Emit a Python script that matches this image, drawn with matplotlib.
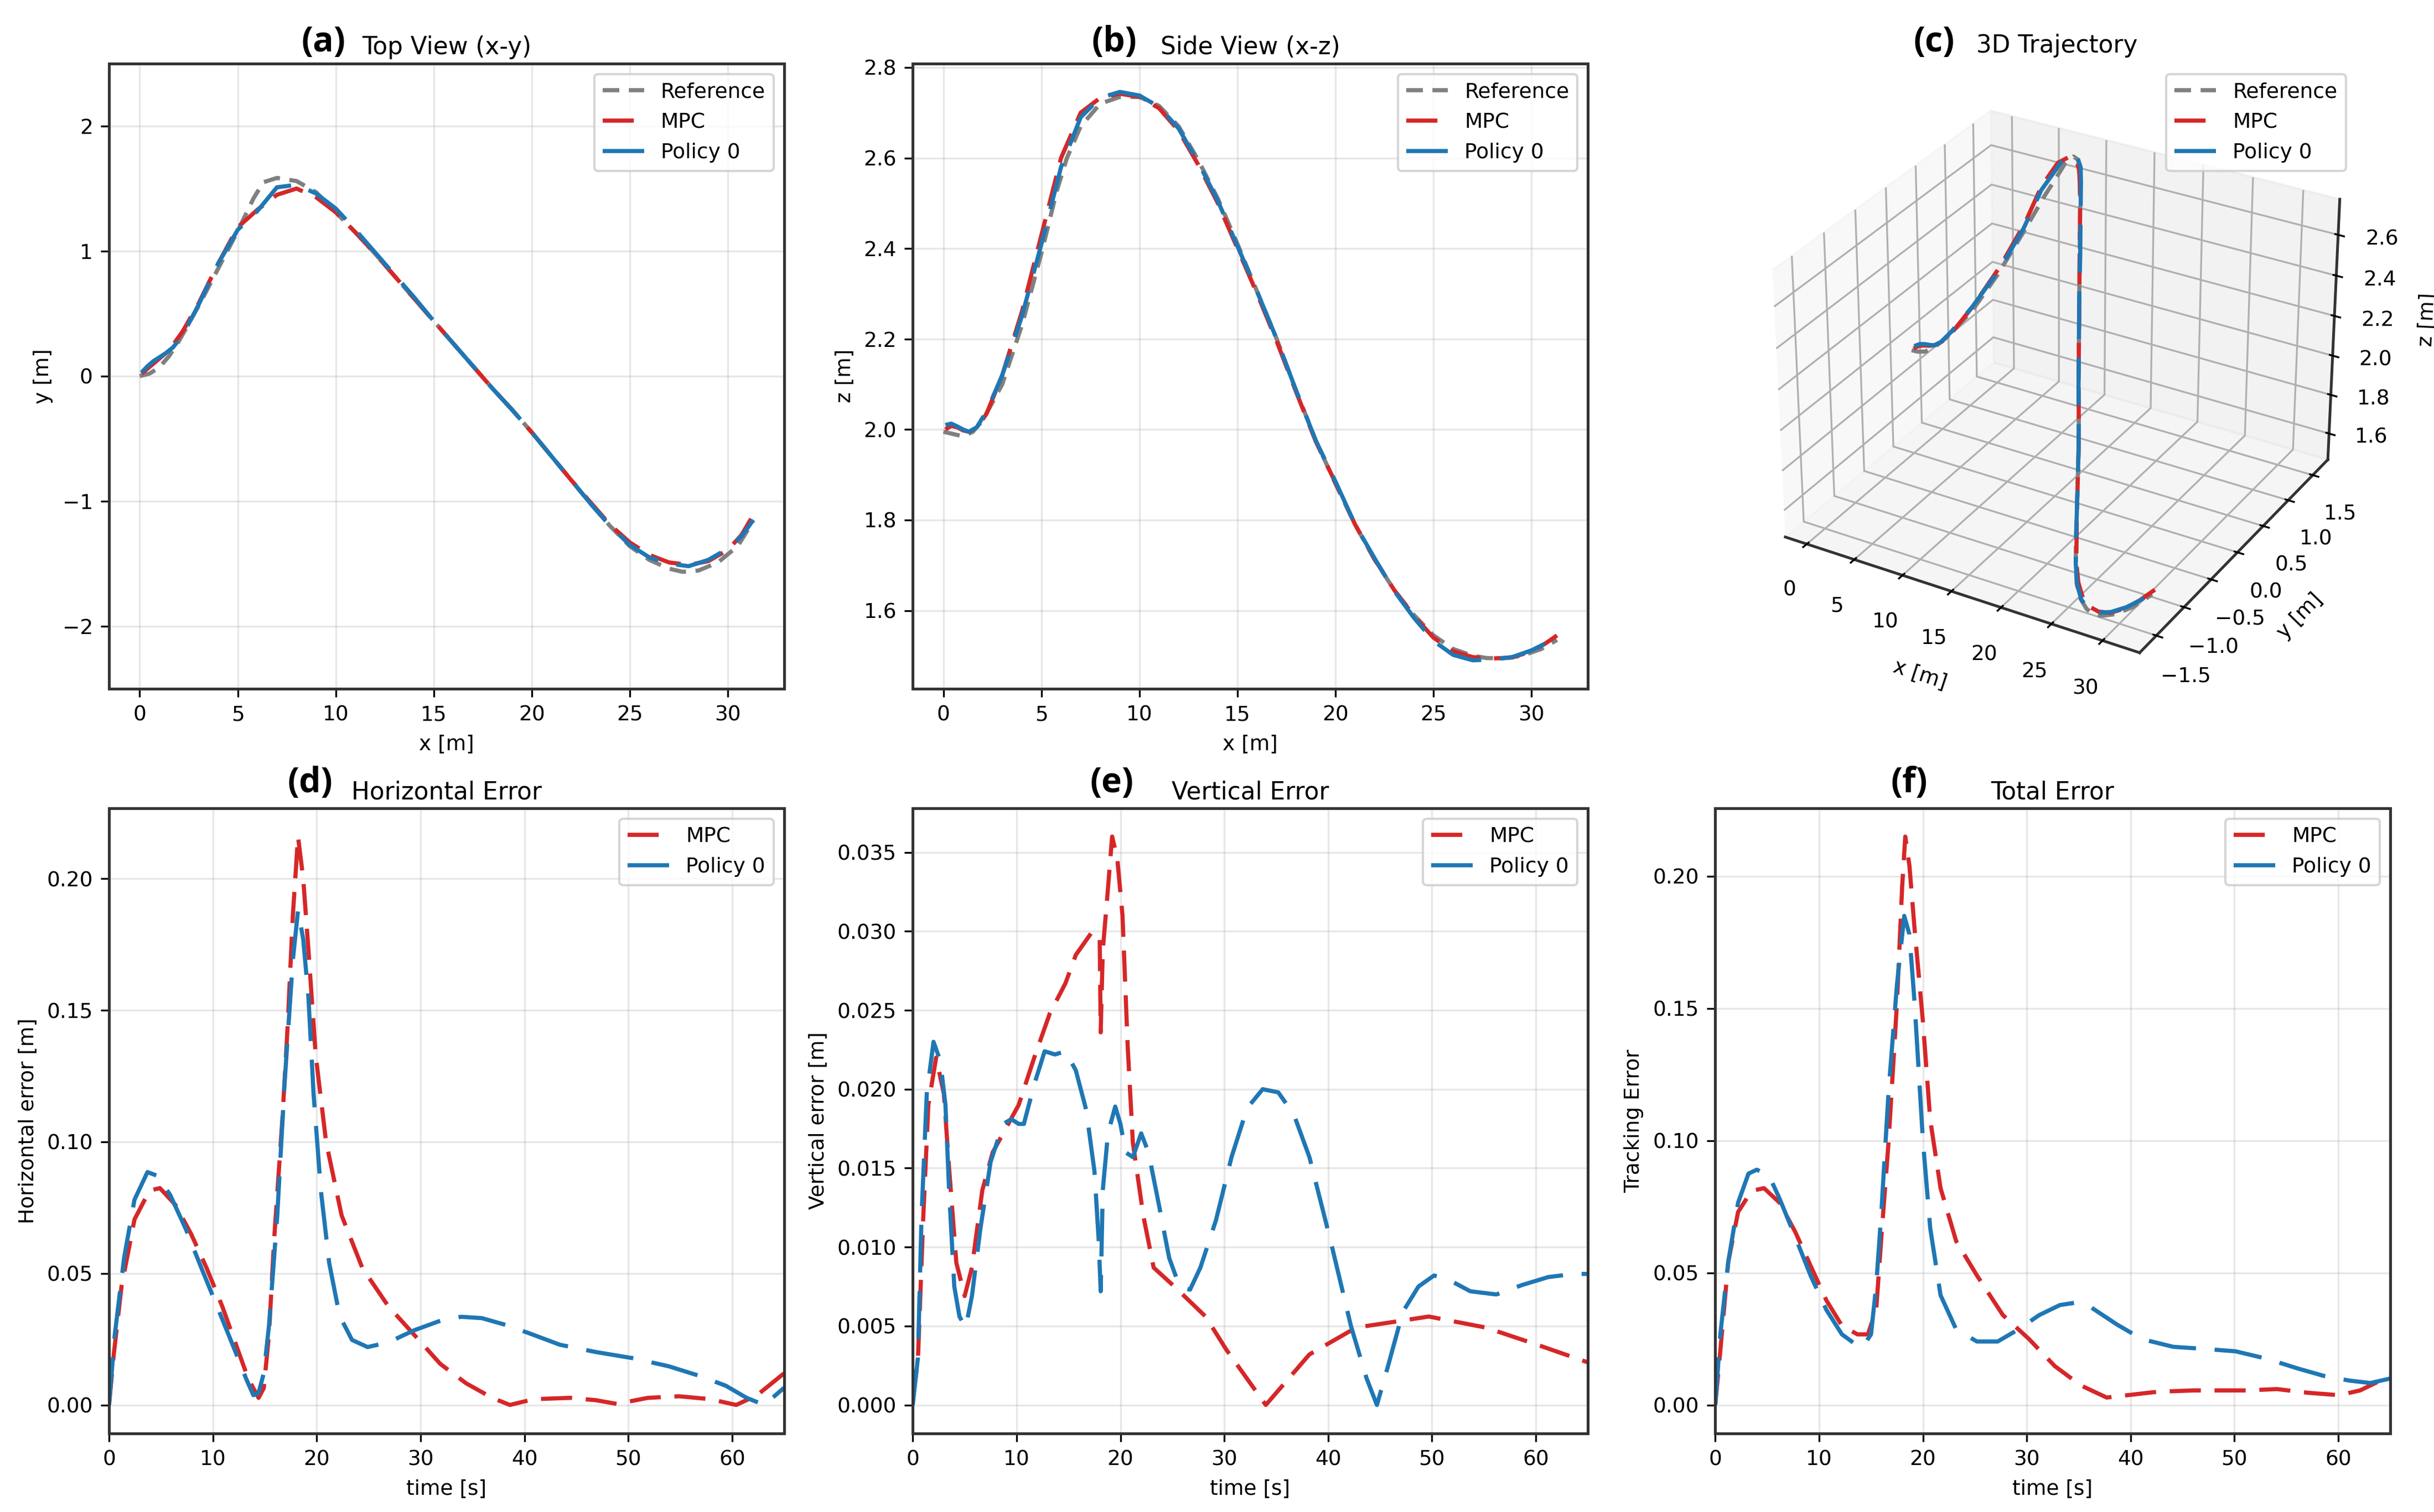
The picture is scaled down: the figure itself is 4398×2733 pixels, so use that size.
import matplotlib
matplotlib.use('Agg')
import matplotlib.pyplot as plt
import numpy as np

# ---- trajectory data ----
ref_x = [0, 0.5, 1, 1.5, 2, 3, 4, 5, 5.8, 6.3, 7, 8, 9, 10, 11, 12, 13, 14, 15, 16, 17, 18,
         19, 20, 21, 22, 23, 24, 25, 26, 27, 27.7, 28.5, 29.5, 30.5, 31.3]
ref_y = [0, 0.02, 0.07, 0.16, 0.28, 0.56, 0.86, 1.16, 1.42, 1.55, 1.585, 1.56, 1.47, 1.31, 1.15,
         0.98, 0.80, 0.62, 0.44, 0.26, 0.08, -0.10, -0.27, -0.45, -0.64, -0.83, -1.02, -1.20,
         -1.36, -1.47, -1.54, -1.565, -1.555, -1.49, -1.36, -1.16]
ref_z = [1.995, 1.99, 1.985, 1.995, 2.02, 2.10, 2.23, 2.39, 2.53, 2.60, 2.67, 2.72, 2.735, 2.735,
         2.715, 2.67, 2.595, 2.51, 2.41, 2.305, 2.20, 2.085, 1.975, 1.88, 1.79, 1.712, 1.645,
         1.59, 1.545, 1.515, 1.50, 1.495, 1.494, 1.50, 1.515, 1.535]

trk_x = [0.1, 0.4, 0.7, 1.0, 1.3, 1.7, 2.2, 3, 4, 5, 6, 7, 8, 9, 10, 11, 12, 13, 14, 15, 16, 17,
         18, 19, 20, 21, 22, 23, 24, 25, 26, 27, 28, 29, 30, 30.7, 31.3]
mpc_y = [0.02, 0.06, 0.10, 0.14, 0.18, 0.25, 0.36, 0.58, 0.90, 1.19, 1.33, 1.45, 1.50, 1.43,
         1.31, 1.15, 0.98, 0.80, 0.62, 0.44, 0.26, 0.08, -0.10, -0.27, -0.45, -0.64, -0.83,
         -1.01, -1.19, -1.33, -1.43, -1.49, -1.51, -1.48, -1.39, -1.27, -1.11]
mpc_z = [2.00, 2.008, 2.005, 1.998, 1.995, 2.003, 2.035, 2.12, 2.26, 2.43, 2.60, 2.70, 2.733,
         2.742, 2.735, 2.71, 2.66, 2.585, 2.50, 2.40, 2.30, 2.195, 2.082, 1.973, 1.882, 1.79,
         1.713, 1.645, 1.588, 1.54, 1.51, 1.497, 1.494, 1.496, 1.51, 1.527, 1.545]
pol_y = [0.03, 0.08, 0.12, 0.15, 0.18, 0.23, 0.33, 0.57, 0.90, 1.17, 1.32, 1.51, 1.53, 1.46,
         1.34, 1.17, 0.99, 0.81, 0.63, 0.44, 0.26, 0.08, -0.10, -0.27, -0.45, -0.64, -0.83,
         -1.02, -1.20, -1.35, -1.45, -1.50, -1.52, -1.47, -1.38, -1.28, -1.15]
pol_z = [2.01, 2.013, 2.007, 2.00, 1.995, 2.005, 2.04, 2.12, 2.25, 2.41, 2.58, 2.69, 2.733,
         2.746, 2.738, 2.713, 2.665, 2.59, 2.505, 2.405, 2.305, 2.20, 2.085, 1.975, 1.885,
         1.79, 1.715, 1.643, 1.584, 1.533, 1.502, 1.49, 1.492, 1.497, 1.512, 1.527, 1.54]

# ---- error data ----
# horizontal error
h_mpc_t = [0, 0.45, 1.2, 2.45, 3.9, 4.9, 6.4, 7.9, 9.4, 10.9, 12.4, 13.4, 14.4, 14.9, 15.4, 15.9,
           16.7, 17.2, 17.7, 18.2, 18.7, 19.2, 19.9, 20.9, 22.4, 24.4, 26.9, 29.4, 31.9, 34.4,
           36.9, 38.6, 40.9, 44.4, 46.9, 48.9, 51.9, 54.9, 57.9, 60.4, 62.4, 65]
h_mpc_e = [0, 0.019, 0.045, 0.0705, 0.0815, 0.0824, 0.076, 0.065, 0.052, 0.0375, 0.021, 0.010,
           0.0027, 0.0064, 0.0266, 0.063, 0.109, 0.144, 0.186, 0.216, 0.20, 0.173, 0.133, 0.10,
           0.072, 0.052, 0.0375, 0.0266, 0.0156, 0.0082, 0.0027, 0.0, 0.0022, 0.0027, 0.0018,
           0.0004, 0.0027, 0.0033, 0.0022, 0.0, 0.0037, 0.012]
h_pol_t = [0, 0.55, 1.45, 2.45, 3.7, 4.7, 5.9, 7.4, 8.9, 10.4, 11.9, 13.2, 13.9, 14.4, 14.9, 15.4,
           16.2, 16.9, 17.7, 18.2, 18.7, 19.2, 19.7, 20.4, 21.2, 22.2, 23.4, 24.9, 26.9, 29.4,
           31.9, 33.9, 35.9, 38.4, 40.9, 43.4, 46.9, 50.4, 53.9, 56.9, 59.4, 61.4, 63.1, 65]
h_pol_e = [0, 0.0266, 0.0559, 0.078, 0.0885, 0.087, 0.0797, 0.0668, 0.052, 0.0375, 0.0229, 0.010,
           0.0037, 0.0046, 0.012, 0.030, 0.072, 0.122, 0.169, 0.188, 0.177, 0.155, 0.118, 0.0815,
           0.054, 0.0339, 0.0247, 0.022, 0.0238, 0.0284, 0.032, 0.0335, 0.033, 0.0302, 0.0266,
           0.0229, 0.0201, 0.0178, 0.0147, 0.011, 0.0073, 0.0027, 0.0, 0.0065]

# vertical error
v_mpc_t = [0, 0.5, 1.0, 1.5, 2.25, 3.0, 3.5, 4.2, 5.0, 5.7, 6.7, 7.7, 9.2, 10.2, 11.7, 13.2, 14.7,
           15.7, 17.2, 18.0, 18.1, 18.3, 18.7, 19.2, 19.7, 20.2, 20.7, 21.2, 22.2, 23.2, 25.2,
           28.2, 30.2, 34.0, 38.2, 42.7, 49.7, 55.2, 60.2, 65]
v_mpc_e = [0.0003, 0.0029, 0.0117, 0.019, 0.022, 0.0197, 0.015, 0.009, 0.0069, 0.0087, 0.0136,
           0.016, 0.0178, 0.019, 0.022, 0.0248, 0.0267, 0.0285, 0.0299, 0.0297, 0.0236, 0.0288,
           0.0319, 0.036, 0.0346, 0.031, 0.0227, 0.0166, 0.012, 0.0087, 0.0075, 0.0056, 0.0035,
           0.0, 0.0032, 0.0049, 0.0056, 0.0049, 0.0038, 0.0027]
v_pol_t = [0, 0.5, 0.85, 1.35, 2.0, 2.65, 3.15, 3.5, 4.0, 4.5, 5.1, 5.7, 6.5, 7.5, 8.7, 9.5, 10.2,
           10.7, 11.7, 12.7, 13.7, 14.7, 15.7, 16.7, 17.5, 17.9, 18.1, 18.3, 18.8, 19.5, 20.0,
           20.5, 21.2, 22.0, 22.7, 23.7, 24.7, 25.7, 26.7, 27.7, 29.2, 30.7, 32.2, 33.7, 35.2,
           36.7, 38.2, 40.2, 42.2, 43.7, 44.7, 45.7, 47.2, 48.7, 50.2, 51.7, 53.7, 56.2, 58.7,
           61.2, 63.7, 65]
v_pol_e = [0.0, 0.003, 0.012, 0.0197, 0.023, 0.0218, 0.019, 0.0136, 0.0075, 0.0056, 0.0049,
           0.0069, 0.0111, 0.0154, 0.0178, 0.0181, 0.0178, 0.0178, 0.0203, 0.0224, 0.0222,
           0.0224, 0.0212, 0.0187, 0.0148, 0.0105, 0.0072, 0.0136, 0.0172, 0.0189, 0.0178,
           0.016, 0.0157, 0.0172, 0.016, 0.0127, 0.0093, 0.0075, 0.0073, 0.0087, 0.0117,
           0.0157, 0.0188, 0.020, 0.0198, 0.0184, 0.0157, 0.0105, 0.005, 0.0017, 0.0, 0.0023,
           0.0059, 0.0075, 0.0082, 0.0079, 0.0072, 0.007, 0.0076, 0.0081, 0.0083, 0.0083]

# total error
t_mpc_t = [0, 0.5, 1.25, 2.2, 3.5, 4.7, 6.2, 7.7, 9.2, 10.7, 12.2, 13.7, 14.7, 15.5, 16.0, 16.7,
           17.5, 18.0, 18.3, 18.7, 19.2, 20.0, 20.7, 21.7, 23.2, 25.2, 27.7, 30.2, 32.7, 35.2,
           37.7, 39.7, 42.6, 46.1, 51.1, 54.1, 57.1, 60.1, 62.1, 65]
t_mpc_e = [0, 0.021, 0.054, 0.073, 0.081, 0.082, 0.0765, 0.0655, 0.0525, 0.0396, 0.030, 0.0267,
           0.0267, 0.036, 0.0636, 0.10, 0.152, 0.196, 0.215, 0.204, 0.18, 0.145, 0.108, 0.082,
           0.062, 0.049, 0.034, 0.025, 0.0147, 0.0074, 0.0028, 0.0037, 0.005, 0.0055, 0.0055,
           0.006, 0.0046, 0.0037, 0.0055, 0.011]
t_pol_t = [0, 0.5, 1.25, 2.2, 3.2, 4.0, 5.2, 6.2, 7.7, 9.2, 10.7, 12.2, 13.5, 14.2, 15.0, 15.5,
           16.0, 16.7, 17.5, 18.2, 18.7, 19.2, 20.0, 20.7, 21.7, 23.2, 25.2, 27.2, 29.2, 31.2,
           33.2, 34.7, 36.2, 38.7, 41.1, 44.1, 47.1, 50.1, 53.1, 56.1, 58.6, 61.1, 63.1, 65]
t_pol_e = [0, 0.027, 0.054, 0.0765, 0.0875, 0.089, 0.0866, 0.078, 0.0636, 0.0488, 0.036, 0.0267,
           0.023, 0.022, 0.0267, 0.045, 0.073, 0.119, 0.159, 0.185, 0.178, 0.152, 0.10, 0.067,
           0.0415, 0.0286, 0.024, 0.024, 0.0286, 0.034, 0.0378, 0.0387, 0.0369, 0.0304, 0.0249,
           0.022, 0.0212, 0.0203, 0.0175, 0.0138, 0.011, 0.0092, 0.0083, 0.010]

# ---- styling ----
plt.rcParams.update({
    'font.size': 9,
    'axes.titlesize': 10.5,
    'axes.labelsize': 9,
    'xtick.labelsize': 9,
    'ytick.labelsize': 9,
    'legend.fontsize': 9,
    'axes.edgecolor': '#333333',
    'axes.linewidth': 1.2,
})

LW = 1.8
ref_kw = dict(color='gray', lw=LW, dashes=(4, 2.3), label='Reference')
mpc_kw = dict(color='#d62728', lw=LW, dashes=(7.5, 3.3), label='MPC')
pol_kw = dict(color='#1f77b4', lw=LW, dashes=(11.5, 4.5), label='Policy 0')

fig = plt.figure(figsize=(14.66, 9.11), dpi=300)

W, H = 0.2773, 0.4135
ax_a = fig.add_axes([0.0448, 0.5445, W, H])
ax_b = fig.add_axes([0.375, 0.5445, W, H])
ax_c = fig.add_axes([0.712, 0.542, 0.263, 0.417], projection='3d')
ax_d = fig.add_axes([0.0448, 0.052, W, H])
ax_e = fig.add_axes([0.375, 0.052, W, H])
ax_f = fig.add_axes([0.7047, 0.052, W, H])

# (a) top view
ax_a.plot(ref_x, ref_y, **ref_kw)
ax_a.plot(trk_x, mpc_y, **mpc_kw)
ax_a.plot(trk_x, pol_y, **pol_kw)
ax_a.set_ylim(-2.5, 2.5)
ax_a.set_xlabel('x [m]')
ax_a.set_ylabel('y [m]')
ax_a.set_title('Top View (x-y)', pad=4)

# (b) side view
ax_b.plot(ref_x, ref_z, **ref_kw)
ax_b.plot(trk_x, mpc_z, **mpc_kw)
ax_b.plot(trk_x, pol_z, **pol_kw)
ax_b.set_xlabel('x [m]')
ax_b.set_ylabel('z [m]')
ax_b.set_title('Side View (x-z)', pad=4)

# (c) 3D
ax_c.plot(ref_x, ref_y, ref_z, **ref_kw)
ax_c.plot(trk_x, mpc_y, mpc_z, **mpc_kw)
ax_c.plot(trk_x, pol_y, pol_z, **pol_kw)
ax_c.set_xlabel('x [m]')
ax_c.set_ylabel('y [m]')
ax_c.set_zlabel('z [m]')
fig.text(0.845, 0.962, '3D Trajectory', ha='center', va='bottom', fontsize=10.5)

for ax in (ax_a, ax_b):
    ax.grid(True, alpha=0.3)
    ax.legend(loc='upper right')
ax_c.legend(loc='upper right', bbox_to_anchor=(0.968, 0.958),
            bbox_transform=fig.transFigure)

# (d)-(f) errors
err_sets = [
    (ax_d, h_mpc_t, h_mpc_e, h_pol_t, h_pol_e, 'Horizontal error [m]', 'Horizontal Error'),
    (ax_e, v_mpc_t, v_mpc_e, v_pol_t, v_pol_e, 'Vertical error [m]', 'Vertical Error'),
    (ax_f, t_mpc_t, t_mpc_e, t_pol_t, t_pol_e, 'Tracking Error', 'Total Error'),
]
for ax, mt, me, pt, pe, ylab, title in err_sets:
    ax.plot(mt, me, **mpc_kw)
    ax.plot(pt, pe, **pol_kw)
    ax.set_xlim(0, 65)
    ax.set_xlabel('time [s]')
    ax.set_ylabel(ylab)
    ax.set_title(title, pad=4)
    ax.grid(True, alpha=0.3)
    ax.legend(loc='upper right')

# panel letters
letter_kw = dict(fontsize=15, fontweight='bold', family='Open Sans', ha='right', va='bottom')
fig.text(0.1419, 0.9605, '(a)', **letter_kw)
fig.text(0.467, 0.9605, '(b)', **letter_kw)
fig.text(0.803, 0.9605, '(c)', **letter_kw)
fig.text(0.1367, 0.4705, '(d)', **letter_kw)
fig.text(0.4657, 0.4705, '(e)', **letter_kw)
fig.text(0.792, 0.4705, '(f)', **letter_kw)

fig.savefig('out.png', dpi=300)
